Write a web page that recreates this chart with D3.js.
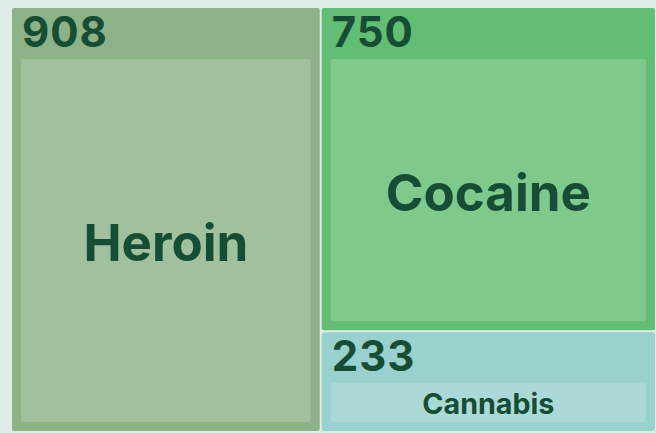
<!DOCTYPE html>
<html>
<head>
<meta charset="utf-8">
<script src="https://cdn.jsdelivr.net/npm/d3@7"></script>
<style>
  body { margin: 0; background: #dfece7; }
  svg { display: block; font-family: Inter, "Noto Sans", sans-serif; }
</style>
</head>
<body>
<svg width="656" height="433"></svg>
<script>
const drugs = ["Heroin", "Cocaine", "Cannabis"]
const counts = [908, 750, 233]

const svg = d3.select("svg")
const width = +svg.attr("width")
const height = +svg.attr("height")

const margin = {top: 8, right: 1, bottom: 2, left: 12}
const innerWidth = width - margin.left - margin.right
const innerHeight = height - margin.top - margin.bottom

const colors = d3.scaleOrdinal()
  .domain(drugs)
  .range(["#8db288", "#63bd75", "#99d1cf"])
const textColor = "#164d35"

const root = d3.hierarchy({children: drugs.map((name, i) => ({name, value: counts[i]}))})
  .sum(d => d.value || 0)

d3.treemap()
  .tile(d3.treemapBinary)
  .size([innerWidth, innerHeight])
  .paddingInner(2)(root)

const g = svg.append("g")
  .attr("transform", `translate(${margin.left}, ${margin.top})`)

const cell = g.selectAll("g").data(root.leaves())
  .enter().append("g")
  .attr("transform", d => `translate(${d.x0}, ${d.y0})`)

cell.append("rect")
  .attr("width", d => d.x1 - d.x0)
  .attr("height", d => d.y1 - d.y0)
  .attr("rx", 2)
  .attr("fill", d => colors(d.data.name))

// lighter inner box, value label sits above it
const pad = {top: 51, side: 9}
cell.append("rect")
  .attr("x", pad.side)
  .attr("y", pad.top)
  .attr("width", d => d.x1 - d.x0 - 2 * pad.side)
  .attr("height", d => d.y1 - d.y0 - pad.top - pad.side)
  .attr("rx", 2)
  .attr("fill", "#fff")
  .attr("fill-opacity", 0.18)

cell.append("text")
  .attr("x", 10)
  .attr("y", 39)
  .attr("fill", textColor)
  .attr("font-size", 42)
  .attr("font-weight", 700)
  .attr("letter-spacing", 1)
  .text(d => d.value)

cell.append("text")
  .each(function(d) {
    const w = d.x1 - d.x0 - 2 * pad.side
    const h = d.y1 - d.y0 - pad.top - pad.side
    const fs = Math.min(51, h * 0.74)
    d3.select(this)
      .attr("x", pad.side + w / 2)
      .attr("y", pad.top + h / 2 + fs * 0.4)
      .attr("font-size", fs)
  })
  .attr("text-anchor", "middle")
  .attr("fill", textColor)
  .attr("font-weight", 700)
  .text(d => d.data.name)
</script>
</body>
</html>
